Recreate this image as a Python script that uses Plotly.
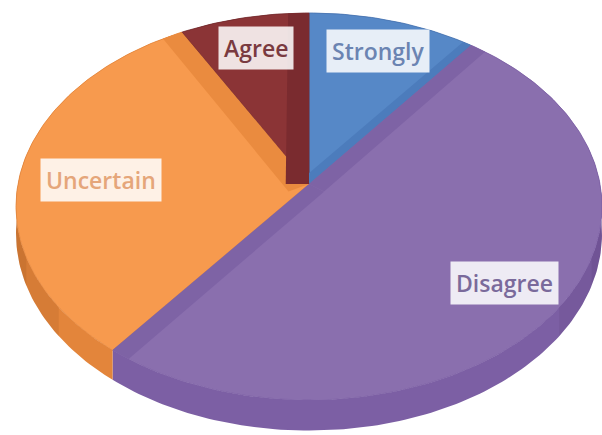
import numpy as np
import plotly.graph_objects as go

# Survey responses (share of respondents, %)
labels = ["Strongly", "Disagree", "Uncertain", "Agree"]
values = [10.4, 50.1, 31.5, 8.0]

top_colors = ["#5688C7", "#8A6FAE", "#F79A4E", "#8B3436"]
side_colors = ["#4672B0", "#7C5FA4", "#E3853B", "#73292C"]
bevel_colors = ["#4C7CBC", "#7E63A5", "#EA8B3F", "#7A2B2F"]
text_colors = ["#6B84B2", "#7A6A9B", "#E5A67A", "#7A3A40"]

# which radial edges get a bevel band: (start edge, end edge), and its width
bevel_edges = [(False, True), (True, True), (False, True), (False, True)]
bevel_width = [0.035, 0.065, 0.08, 0.08]
label_radius = [0.8, 0.8, 0.72, 0.8]
label_lift = [0, 0, -7, 0]

W, H = 602, 435
CX, CY = 309, 184          # projected pie centre
AX, BY = 291, 190.9        # horizontal / vertical scale of the disc
K = 0.1163                 # perspective strength
DEPTH = 27.0               # thickness of the pie


def project(x, d, drop=0.0):
    w = 1 - K * d
    return CX + AX * x / w, CY + (BY * d + drop) / w


def disc(theta_deg, r=1.0):
    t = np.radians(theta_deg)
    return r * np.sin(t), -r * np.cos(t)


def arc(a0, a1, r=1.0, n=None):
    n = n or max(int(abs(a1 - a0) / 1.0) + 2, 3)
    th = np.linspace(a0, a1, n)
    return disc(th, r)


total = sum(values)
bounds = np.concatenate([[0], np.cumsum(values) / total * 360])

fig = go.Figure()


def poly(xs, ys, color, line_color=None, lw=0):
    fig.add_trace(go.Scatter(
        x=list(xs), y=list(ys), mode="lines", fill="toself",
        fillcolor=color, line=dict(color=line_color or color, width=lw),
        hoverinfo="skip", showlegend=False))


def side_band(a0, a1, color):
    x, d = arc(a0, a1)
    tx, ty = project(x, d)
    bx, by = project(x, d, DEPTH)
    poly(np.concatenate([tx, bx[::-1]]), np.concatenate([ty, by[::-1]]), color)


# side walls
for i in range(len(values)):
    side_band(bounds[i], bounds[i + 1], side_colors[i])

# rim darkens toward the left and right edges
for t in (0.8, 0.93, 0.985):
    a = np.degrees(np.arcsin(t))
    side_band(max(a, 80), 180 - a, "rgba(40,20,60,0.07)")
    side_band(180 + a, min(360 - a, 280), "rgba(60,25,0,0.08)")

# top faces
for i in range(len(values)):
    a0, a1 = bounds[i], bounds[i + 1]
    x, d = arc(a0, a1)
    px, py = project(np.concatenate([[0], x, [0]]), np.concatenate([[0], d, [0]]))
    poly(px, py, top_colors[i], line_color=side_colors[i], lw=0.8)

# bevel bands along the straight edges
for i in range(len(values)):
    a0, a1 = bounds[i], bounds[i + 1]
    bw = bevel_width[i]
    for edge, on in zip((a0, a1), bevel_edges[i]):
        if not on:
            continue
        sign = 1 if edge == a0 else -1
        t = np.radians(edge)
        nx, nd = np.cos(t) * sign, np.sin(t) * sign
        delta = np.degrees(np.arcsin(bw)) * sign
        rx, rd = arc(edge, edge + delta, n=5)
        xs = np.concatenate([[0], rx, [nx * bw]])
        ds = np.concatenate([[0], rd, [nd * bw]])
        px, py = project(xs, ds)
        poly(px, py, bevel_colors[i])

# data labels
for i, lab in enumerate(labels):
    mid = (bounds[i] + bounds[i + 1]) / 2
    x, d = disc(mid, label_radius[i])
    lx, ly = project(x, d)
    fig.add_annotation(
        x=lx, y=ly, text=lab, showarrow=False, yshift=label_lift[i],
        font=dict(family="Open Sans", size=23, weight=600, color=text_colors[i]),
        bgcolor="rgba(255,255,255,0.86)", borderpad=5)

fig.update_layout(
    width=W, height=H, margin=dict(l=0, r=0, t=0, b=0),
    paper_bgcolor="white", plot_bgcolor="white", showlegend=False,
    xaxis=dict(range=[0, W], visible=False, fixedrange=True),
    yaxis=dict(range=[H, 0], visible=False, fixedrange=True),
)

fig.write_html("out.html")
